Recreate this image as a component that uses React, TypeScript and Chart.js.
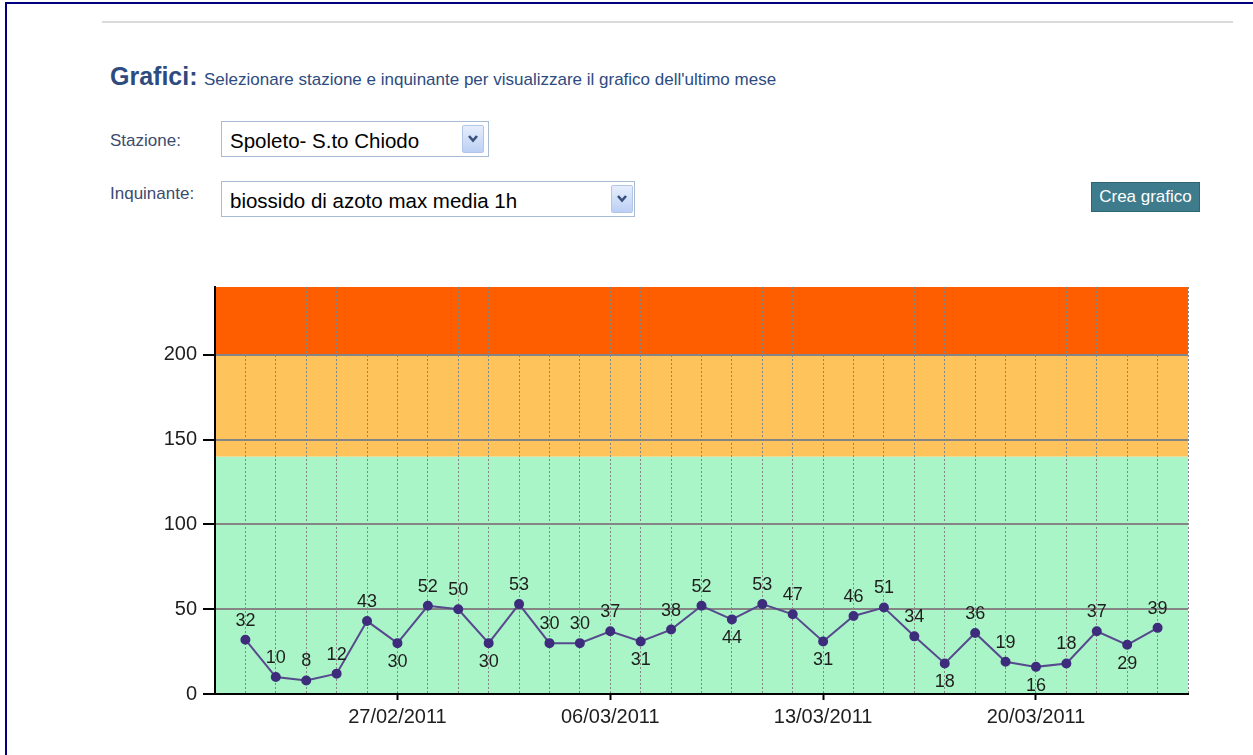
import React, { useEffect, useRef } from "react";
import { Chart, registerables } from "chart.js";

Chart.register(...registerables);

// ---- data ----
const categories = [
  "22/02/2011", "23/02/2011", "24/02/2011", "25/02/2011", "26/02/2011", "27/02/2011", "28/02/2011",
  "01/03/2011", "02/03/2011", "03/03/2011", "04/03/2011", "05/03/2011", "06/03/2011", "07/03/2011",
  "08/03/2011", "09/03/2011", "10/03/2011", "11/03/2011", "12/03/2011", "13/03/2011", "14/03/2011",
  "15/03/2011", "16/03/2011", "17/03/2011", "18/03/2011", "19/03/2011", "20/03/2011", "21/03/2011",
  "22/03/2011", "23/03/2011", "24/03/2011",
];
const values = [
  32, 10, 8, 12, 43, 30, 52, 50, 30, 53, 30, 30, 37, 31, 38, 52,
  44, 53, 47, 31, 46, 51, 34, 18, 36, 19, 16, 18, 37, 29, 39,
];
const xTickLabels = ["27/02/2011", "06/03/2011", "13/03/2011", "20/03/2011"];
const yTickValues = [0, 50, 100, 150, 200];
const yMax = 240;
const bandLimits = [0, 140, 200, 240];
const bandColors = ["#aaf5c8", "#fec35b", "#ff5e00"];

const FONT = '"Liberation Sans", Arial, sans-serif';

const bandsPlugin = {
  id: "bands",
  beforeDraw(chart: any) {
    const { ctx, chartArea } = chart;
    const y = chart.scales.y;
    ctx.save();
    for (let i = 0; i < bandColors.length; i++) {
      const top = y.getPixelForValue(bandLimits[i + 1]);
      const bottom = y.getPixelForValue(bandLimits[i]);
      ctx.fillStyle = bandColors[i];
      ctx.fillRect(chartArea.left, top, chartArea.right - chartArea.left, bottom - top);
    }
    ctx.restore();
  },
};

const valueLabelsPlugin = {
  id: "valueLabels",
  afterDatasetsDraw(chart: any) {
    const meta = chart.getDatasetMeta(0);
    const ctx = chart.ctx;
    ctx.save();
    ctx.font = `18px ${FONT}`;
    ctx.fillStyle = "#1e1e1e";
    ctx.textAlign = "center";
    ctx.textBaseline = "middle";
    meta.data.forEach((pt: any, i: number) => {
      const v = values[i];
      const prev = values[i - 1];
      const next = values[i + 1];
      const localMin = prev !== undefined && next !== undefined && v < prev && v < next;
      const below = localMin && v > 12;
      ctx.fillText(String(v), pt.x, below ? pt.y + 19 : pt.y - 19);
    });
    ctx.restore();
  },
};

function DropButton({ left, top }: { left: number; top: number }) {
  return (
    <div
      style={{
        position: "absolute",
        left,
        top,
        width: 22,
        height: 28,
        boxSizing: "border-box",
        border: "1px solid #b3c6e8",
        borderRadius: 2,
        background: "linear-gradient(#e6eefc, #bcd0f4)",
      }}
    >
      <svg width="20" height="26" style={{ position: "absolute", left: 0, top: 0 }}>
        <polyline points="6,10 10,14.5 14,10" fill="none" stroke="#3b4f7c" strokeWidth="2.6" />
      </svg>
    </div>
  );
}

export default function App() {
  const ref = useRef<HTMLCanvasElement>(null);

  useEffect(() => {
    document.body.style.overflow = "hidden";
    const data = values.map((v, i) => ({ x: i + 1, y: v }));
    const chart = new Chart(ref.current!, {
      type: "line",
      data: {
        datasets: [
          {
            data,
            borderColor: "#56498d",
            borderWidth: 2,
            pointBackgroundColor: "#3d2d7c",
            pointBorderColor: "#3d2d7c",
            pointRadius: 4,
            tension: 0,
          },
        ],
      },
      options: {
        responsive: false,
        animation: false,
        devicePixelRatio: 1,
        layout: { padding: { left: 0, right: 22, top: 25, bottom: 0 } },
        plugins: { legend: { display: false }, tooltip: { enabled: false } },
        scales: {
          x: {
            type: "linear",
            min: 0,
            max: categories.length + 1,
            afterBuildTicks: (axis: any) => {
              const t = [];
              for (let i = 0; i <= categories.length + 1; i++) t.push({ value: i });
              axis.ticks = t;
            },
            afterFit: (scale: any) => {
              scale.height = 46;
            },
            ticks: {
              autoSkip: false,
              maxRotation: 0,
              padding: 5,
              color: "#1e1e1e",
              font: { family: FONT, size: 20 },
              callback: (value: any) => {
                const c = categories[Number(value) - 1];
                return c && xTickLabels.includes(c) ? c : "";
              },
            },
            grid: {
              color: (ctx: any) => (ctx.tick && ctx.tick.value === 0 ? "rgba(0,0,0,0)" : "#858585"),
              lineWidth: 1,
              tickLength: 6,
              tickWidth: 2,
              tickBorderDash: [],
              tickColor: (ctx: any) => {
                const c = ctx.tick ? categories[ctx.tick.value - 1] : undefined;
                return c && xTickLabels.includes(c) ? "#000" : "rgba(0,0,0,0)";
              },
            },
            border: { color: "#000", width: 2, dash: [2, 2] },
          },
          y: {
            type: "linear",
            min: 0,
            max: yMax,
            afterBuildTicks: (axis: any) => {
              axis.ticks = yTickValues.map((v) => ({ value: v }));
            },
            afterFit: (scale: any) => {
              scale.width = 75;
            },
            ticks: {
              padding: 6,
              color: "#1e1e1e",
              font: { family: FONT, size: 20 },
            },
            grid: {
              color: (ctx: any) => (ctx.tick && ctx.tick.value === 0 ? "rgba(0,0,0,0)" : "#858585"),
              lineWidth: 2,
              tickLength: 12,
              tickWidth: 2,
              tickColor: "#000",
            },
            border: { color: "#000", width: 2 },
          },
        },
      } as any,
      plugins: [bandsPlugin, valueLabelsPlugin],
    });
    return () => chart.destroy();
  }, []);

  const abs = (extra: React.CSSProperties): React.CSSProperties => ({
    position: "absolute",
    whiteSpace: "nowrap",
    lineHeight: 1,
    fontFamily: FONT,
    ...extra,
  });

  return (
    <div>
      {/* page frame: top and left edges */}
      <div style={{ position: "absolute", left: 5, top: 2, width: 1248, height: 2, background: "#000080" }} />
      <div style={{ position: "absolute", left: 5, top: 2, width: 2, height: 753, background: "#000080" }} />
      {/* separator */}
      <div style={{ position: "absolute", left: 102, top: 21, width: 1131, height: 2, background: "#dadada" }} />

      <div style={abs({ left: 110, top: 64, fontSize: 25, fontWeight: "bold", color: "#2d4b7f" })}>Grafici:</div>
      <div style={abs({ left: 204, top: 71, fontSize: 17, color: "#2d4b7f" })}>
        Selezionare stazione e inquinante per visualizzare il grafico dell'ultimo mese
      </div>

      <div style={abs({ left: 110, top: 132, fontSize: 17, color: "#3c4c6e" })}>Stazione:</div>
      <div style={abs({ left: 110, top: 185, fontSize: 17, color: "#3c4c6e" })}>Inquinante:</div>

      {/* select 1 */}
      <div
        style={{
          position: "absolute",
          left: 221,
          top: 121,
          width: 268,
          height: 36,
          boxSizing: "border-box",
          border: "1px solid #a8bbd4",
          background: "#fff",
        }}
      />
      <div style={abs({ left: 230, top: 131, fontSize: 20.5, color: "#000" })}>Spoleto- S.to Chiodo</div>
      <DropButton left={462} top={125} />

      {/* select 2 */}
      <div
        style={{
          position: "absolute",
          left: 221,
          top: 181,
          width: 414,
          height: 36,
          boxSizing: "border-box",
          border: "1px solid #a8bbd4",
          background: "#fff",
        }}
      />
      <div style={abs({ left: 230, top: 191, fontSize: 20.5, color: "#000" })}>biossido di azoto max media 1h</div>
      <DropButton left={611} top={185} />

      {/* button */}
      <div
        style={{
          position: "absolute",
          left: 1091,
          top: 182,
          width: 109,
          height: 30,
          boxSizing: "border-box",
          border: "1px solid #2f6676",
          background: "#3e7b8c",
          color: "#fff",
          fontFamily: FONT,
          fontSize: 17,
          lineHeight: "28px",
          textAlign: "center",
          whiteSpace: "nowrap",
        }}
      >
        Crea grafico
      </div>

      <canvas
        ref={ref}
        width={1070}
        height={478}
        style={{ position: "absolute", left: 140, top: 262, width: 1070, height: 478, display: "block" }}
      />
    </div>
  );
}
